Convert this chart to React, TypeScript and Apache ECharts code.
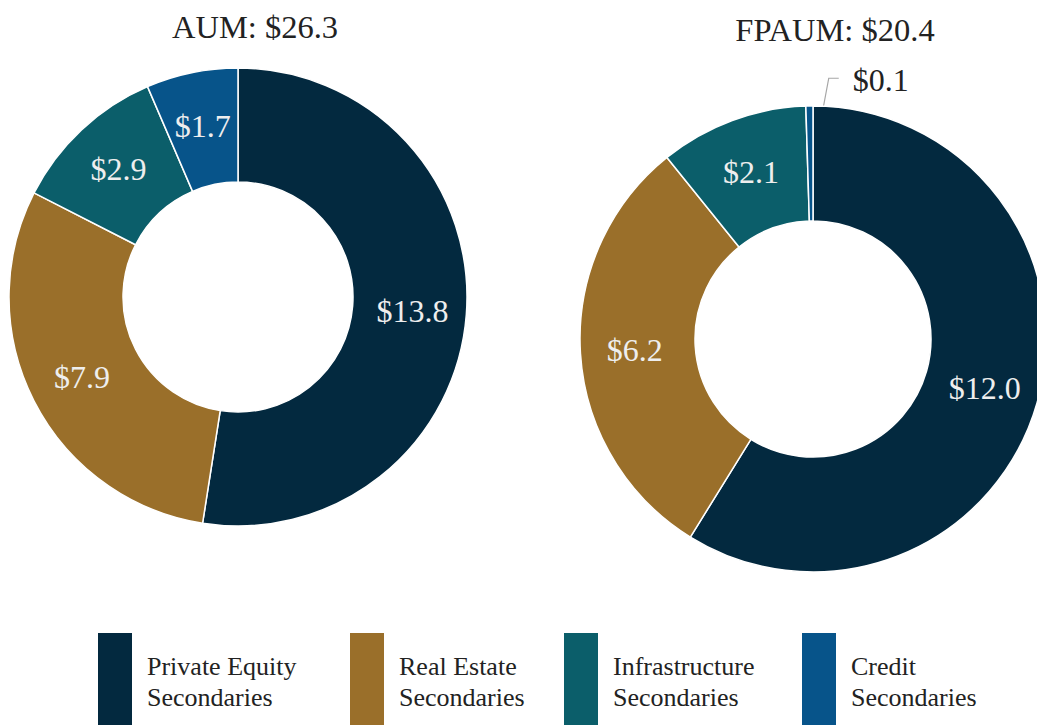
import React, { useEffect, useRef } from "react";
import * as echarts from "echarts";

const categories = [
  "Private Equity Secondaries",
  "Real Estate Secondaries",
  "Infrastructure Secondaries",
  "Credit Secondaries",
];
const aumValues = [13.8, 7.9, 2.9, 1.7];
const fpaumValues = [12.0, 6.2, 2.1, 0.1];
const aumTotal = 26.3;
const fpaumTotal = 20.4;
const colors = ["#03293F", "#9A6F2A", "#0B5E6A", "#07548A"];

const FONT = "Liberation Serif, Times New Roman, serif";

export default function App() {
  const ref = useRef<HTMLDivElement>(null);

  useEffect(() => {
    if (!ref.current) return;
    const chart = echarts.init(ref.current, null, { renderer: "svg" });

    const legendLefts = [96, 348, 562, 800];

    const makeData = (vals: number[], smallOutside: boolean) =>
      vals.map((v, i) => {
        const item: any = { name: categories[i], value: v, itemStyle: { color: colors[i] } };
        if (smallOutside && i === 3) {
          item.label = { position: "outside", color: "#222222" };
          item.labelLine = { show: true, lineStyle: { color: "#a6a6a6", width: 1.2 } };
        }
        return item;
      });

    const commonSeries = {
      type: "pie",
      startAngle: 90,
      clockwise: true,
      avoidLabelOverlap: false,
      silent: true,
      itemStyle: { borderColor: "#ffffff", borderWidth: 1.5 },
      label: {
        show: true,
        position: "inside",
        color: "#eeeeee",
        fontSize: 32,
        fontFamily: FONT,
        formatter: (p: any) => "$" + Number(p.value).toFixed(1),
      },
      labelLine: { show: false },
    };

    chart.setOption({
      animation: false,
      backgroundColor: "#ffffff",
      title: [
        {
          text: `AUM: $${aumTotal.toFixed(1)}`,
          left: 250,
          top: 5,
          textAlign: "center",
          textStyle: { fontFamily: FONT, fontSize: 32.5, fontWeight: "normal", color: "#222222" },
        },
        {
          text: `FPAUM: $${fpaumTotal.toFixed(1)}`,
          left: 830,
          top: 8,
          textAlign: "center",
          textStyle: { fontFamily: FONT, fontSize: 32.5, fontWeight: "normal", color: "#222222" },
        },
      ],
      legend: categories.map((c, i) => ({
        data: [c],
        left: legendLefts[i],
        top: 631,
        padding: 0,
        orient: "horizontal",
        icon: "rect",
        itemWidth: 36,
        itemHeight: 100,
        itemGap: 0,
        selectedMode: false,
        formatter: (n: string) => n.replace(" Secondaries", "\nSecondaries"),
        textStyle: {
          fontFamily: FONT,
          fontSize: 26,
          lineHeight: 31,
          color: "#222222",
          padding: [0, 0, 0, 9],
        },
      })),
      series: [
        {
          ...commonSeries,
          name: "AUM",
          center: [238, 297],
          radius: [115, 229],
          data: makeData(aumValues, false),
        },
        {
          ...commonSeries,
          name: "FPAUM",
          center: [813, 339],
          radius: [118, 233],
          data: makeData(fpaumValues, true),
          labelLayout: (params: any) => {
            if (params.dataIndex !== 3) return {};
            const r = params.rect;
            const sx = r.x + r.width - 1;
            const sy = r.y + r.height * 0.5;
            const ex = r.x + r.width + 15;
            const ey = r.y - 27;
            const hx = ex + 10;
            return {
              x: hx + 14,
              y: ey + 2,
              align: "left",
              verticalAlign: "middle",
              labelLinePoints: [
                [sx, sy],
                [ex, ey],
                [hx, ey],
              ],
            };
          },
        },
      ],
    });

    return () => chart.dispose();
  }, []);

  return (
    <div
      ref={ref}
      style={{ position: "fixed", left: 0, top: 0, width: 1037, height: 725, background: "#fff" }}
    />
  );
}
